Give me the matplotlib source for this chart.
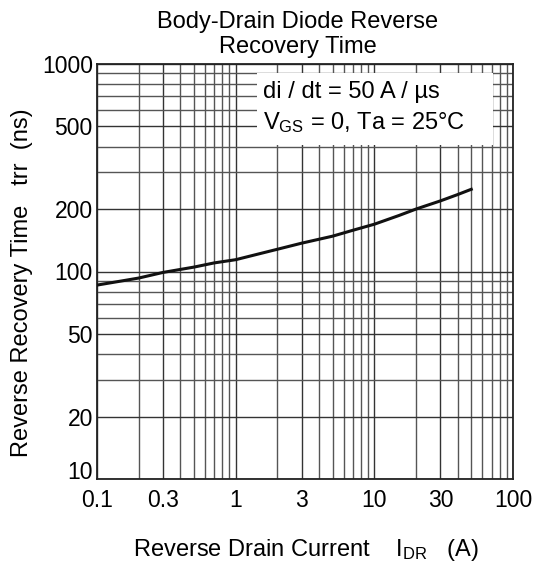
import matplotlib
matplotlib.use("Agg")
import matplotlib.pyplot as plt
from matplotlib.ticker import LogLocator, FixedLocator, NullFormatter, FixedFormatter
from matplotlib.patches import Rectangle

plt.rcParams['font.family'] = ['Liberation Sans', 'DejaVu Sans']
plt.rcParams['mathtext.fontset'] = 'custom'
plt.rcParams['mathtext.rm'] = 'Liberation Sans'
plt.rcParams['mathtext.it'] = 'Liberation Sans:italic'

# Data
current_A = [0.1, 0.15, 0.2, 0.3, 0.5, 0.7, 1, 1.5, 2, 3, 5, 7, 10, 15, 20, 30, 40, 50]
trr_ns = [86, 90, 93, 99, 105, 110, 114, 122, 128, 137, 148, 158, 169, 186, 200, 219, 235, 249]

x_ticks = [0.1, 0.3, 1, 3, 10, 30, 100]
x_labels = ["0.1", "0.3", "1", "3", "10", "30", "100"]
y_ticks = [10, 20, 50, 100, 200, 500, 1000]
y_labels = ["10", "20", "50", "100", "200", "500", "1000"]

fig = plt.figure(figsize=(5.35, 5.65), dpi=100)
ax = fig.add_axes([97/535, 1-479/565, 416/535, 415/565])
ax.set_xscale('log')
ax.set_yscale('log')
ax.set_xlim(0.1, 100)
ax.set_ylim(10, 1000)

ax.xaxis.set_major_locator(FixedLocator(x_ticks))
ax.xaxis.set_major_formatter(FixedFormatter(x_labels))
ax.yaxis.set_major_locator(FixedLocator(y_ticks))
ax.yaxis.set_major_formatter(FixedFormatter(y_labels))
ax.xaxis.set_minor_locator(LogLocator(base=10, subs=range(1, 10), numticks=20))
ax.yaxis.set_minor_locator(LogLocator(base=10, subs=range(1, 10), numticks=20))
ax.xaxis.set_minor_formatter(NullFormatter())
ax.yaxis.set_minor_formatter(NullFormatter())

ax.tick_params(which='both', length=0)
ax.tick_params(axis='x', pad=7, labelsize=16.5)
ax.tick_params(axis='y', pad=3, labelsize=16.5)

ax.grid(which='minor', color='#555555', linewidth=1.0)
ax.grid(which='major', color='#333333', linewidth=1.0)
ax.set_axisbelow(True)

for s in ax.spines.values():
    s.set_linewidth(1.3)
    s.set_color('#222222')

box = Rectangle((0.385, 0.805), 0.567, 0.173, transform=ax.transAxes,
                facecolor='white', edgecolor='none', zorder=2)
ax.add_patch(box)
ax.text(0.399, 0.933, "di / dt = 50 A / µs", transform=ax.transAxes,
        fontsize=17, va='center', ha='left', zorder=3)
ax.text(0.399, 0.858, r"V$_{\mathrm{GS}}$ = 0, Ta = 25°C", transform=ax.transAxes,
        fontsize=17, va='center', ha='left', zorder=3)

ax.plot(current_A, trr_ns, color='#111111', linewidth=2.2, zorder=4)

fig.text(298/535, 1-22/565, "Body-Drain Diode Reverse", ha='center', va='center', fontsize=17)
fig.text(298/535, 1-47/565, "Recovery Time", ha='center', va='center', fontsize=17)
fig.text(306/535, 1-550/565, "Reverse Drain Current    I$_{\\mathrm{DR}}$   (A)",
         ha='center', va='center', fontsize=17)
fig.text(22/535, 1-283/565, "Reverse Recovery Time   trr  (ns)", rotation=90,
         ha='center', va='center', fontsize=17)

fig.canvas.draw()
ax.yaxis.get_major_ticks()[0].label1.set_verticalalignment('baseline')

fig.savefig("out.png", dpi=100)
